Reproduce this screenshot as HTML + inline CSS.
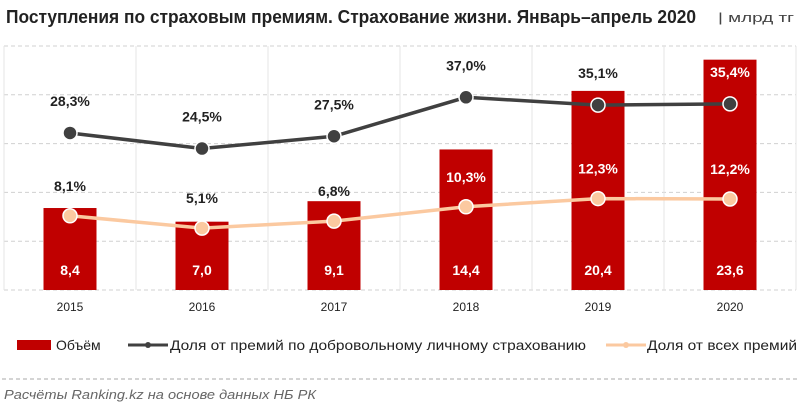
<!DOCTYPE html>
<html><head><meta charset="utf-8"><style>
body{margin:0;background:#fff;}
svg{display:block;font-family:"Liberation Sans Narrow","Liberation Sans",sans-serif;}
</style></head><body>
<svg id="chart" width="800" height="413" viewBox="0 0 800 413">
<text x="6" y="23" font-size="18" font-weight="bold" fill="#222" textLength="690" lengthAdjust="spacingAndGlyphs">Поступления по страховым премиям. Страхование жизни. Январь–апрель 2020</text>
<text x="718" y="22" font-size="13" fill="#444" textLength="76" lengthAdjust="spacingAndGlyphs">| млрд тг</text>
<g id="grid"></g><g id="bars"></g><g id="lines"></g><g id="labels"></g>
<g>
<rect x="17" y="340" width="34" height="10" fill="#c00000"/>
<text x="56" y="350" font-size="14" fill="#222">Объём</text>
<line x1="128" y1="345" x2="168" y2="345" stroke="#404040" stroke-width="3"/>
<circle cx="148" cy="345" r="3" fill="#404040"/>
<text x="170" y="350" font-size="14" fill="#222" textLength="416" lengthAdjust="spacingAndGlyphs">Доля от премий по добровольному личному страхованию</text>
<line x1="606" y1="345" x2="646" y2="345" stroke="#fbc9a0" stroke-width="3"/>
<circle cx="626" cy="345" r="3" fill="#fbc9a0"/>
<text x="647" y="350" font-size="14" fill="#222" textLength="150" lengthAdjust="spacingAndGlyphs">Доля от всех премий</text>
</g>
<line x1="2" y1="379" x2="798" y2="379" stroke="#aaa" stroke-dasharray="4,3"/>
<text x="4" y="399" font-size="13" font-style="italic" fill="#666" textLength="312" lengthAdjust="spacingAndGlyphs">Расчёты Ranking.kz на основе данных  НБ РК</text>
</svg>
<script>
const years=["2015","2016","2017","2018","2019","2020"];
const volume=[8.4,7.0,9.1,14.4,20.4,23.6];
const volumeLabels=["8,4","7,0","9,1","14,4","20,4","23,6"];
const shareVoluntary=[28.3,24.5,27.5,37.0,35.1,35.4];
const shareVoluntaryLabels=["28,3%","24,5%","27,5%","37,0%","35,1%","35,4%"];
const shareAll=[8.1,5.1,6.8,10.3,12.3,12.2];
const shareAllLabels=["8,1%","5,1%","6,8%","10,3%","12,3%","12,2%"];
const NS="http://www.w3.org/2000/svg";
const L=4,R=796,T=46,B=290,yMax=25;
const band=(R-L)/years.length;
const xC=i=>L+band*(i+0.5);
const yV=v=>B-(v/yMax)*(B-T);
const yP=v=>249-4.1*v;
function mk(tag,attrs,parent){const e=document.createElementNS(NS,tag);for(const k in attrs)e.setAttribute(k,attrs[k]);document.getElementById(parent).appendChild(e);return e;}
for(let g=0;g<=5;g++){const y=yV(g*5);
const ln=mk('line',{x1:L,x2:R,y1:y,y2:y,stroke:'#d0d0d0','stroke-dasharray':'4,3'},'grid');

}
for(let i=0;i<=years.length;i++){const x=L+band*i;
const ln=mk('line',{x1:x,x2:x,y1:T,y2:B,stroke:'#e4e4e4'},'grid');

}
years.forEach((yr,i)=>{
const r=mk('rect',{x:xC(i)-26.5,y:yV(volume[i]),width:53,height:B-yV(volume[i]),fill:'#c00000'},'bars');


const t=mk('text',{x:xC(i),y:275,'text-anchor':'middle','font-size':14,'font-weight':'bold',fill:'#fff'},'labels');t.textContent=volumeLabels[i];


const ty=mk('text',{x:xC(i),y:311,'text-anchor':'middle','font-size':12,fill:'#222'},'labels');ty.textContent=yr;


});
function series(vals,labs,color,name,dotFill){
const p=mk('polyline',{points:vals.map((v,i)=>xC(i)+','+yP(v)).join(' '),fill:'none',stroke:color,'stroke-width':3.5},'lines');


vals.forEach((v,i)=>{
const c=mk('circle',{cx:xC(i),cy:yP(v),r:7,fill:dotFill,stroke:'#fff','stroke-width':1.5},'lines');


let ly=yP(v)-(name==='voluntary'?27:25);
const inside=yV(volume[i])<ly-10;
const t=mk('text',{x:xC(i),y:ly,'text-anchor':'middle','font-size':14,'font-weight':'bold',fill:inside?'#fff':'#222'},'labels');t.textContent=labs[i];


});}
series(shareVoluntary,shareVoluntaryLabels,'#404040','voluntary','#404040');
series(shareAll,shareAllLabels,'#fbc9a0','all','#fbc9a0');
</script>
</body></html>
